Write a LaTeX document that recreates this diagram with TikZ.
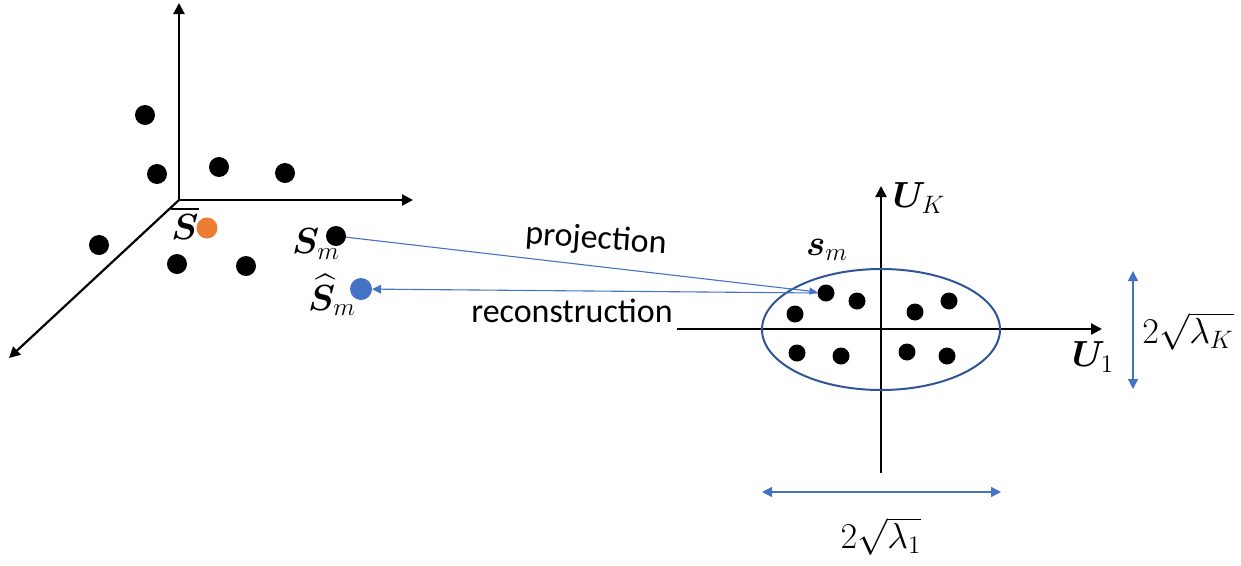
\documentclass[tikz,border=0pt]{standalone}
\usepackage{amsmath}
\usepackage{bm}
\usepackage{fontspec}
\setmainfont{Carlito}
\usetikzlibrary{arrows.meta,shapes.geometric}
\definecolor{lineblue}{RGB}{68,114,196}
\definecolor{ellblue}{RGB}{47,85,151}
\definecolor{dotorange}{RGB}{237,125,49}
\newcommand{\biglbl}[1]{\scalebox{1.75}{\fontsize{20.74}{24}\selectfont$#1$}}
\begin{document}
\begin{tikzpicture}[x=1pt,y=-1pt,
  axis/.style={line width=2.2pt,-{Triangle[length=11pt,width=11pt]}},
  bdot/.style={circle,fill=black,inner sep=0pt,minimum size=20pt},
  sdot/.style={circle,fill=black,inner sep=0pt,minimum size=17pt},
  lbl/.style={inner sep=0pt},
  txt/.style={inner sep=0pt,font=\fontsize{34}{38}\selectfont},
  bluearr/.style={draw=lineblue,line width=1.1pt},
  dim/.style={draw=lineblue,line width=1.3pt,{Triangle[length=10pt,width=10pt]}-{Triangle[length=10pt,width=10pt]}}
]
\useasboundingbox (0,0) rectangle (1241,565);
% 3D axes
\coordinate (O3) at (179,200);
\coordinate (Z3) at (179,3);
\coordinate (X3) at (413,200);
\coordinate (Y3) at (9,358);
\draw[axis] (O3) -- (Z3);
\draw[axis] (O3) -- (X3);
\draw[axis] (O3) -- (Y3);
% dots 3D
\node[bdot] (d1) at (145,115) {};
\node[bdot] (d2) at (157,174) {};
\node[bdot] (d3) at (219,167) {};
\node[bdot] (d4) at (285,173) {};
\node[bdot] (d5) at (99,245) {};
\node[bdot] (d6) at (177,264) {};
\node[bdot] (d7) at (246,266) {};
\node[bdot] (sm3) at (336,236) {};
\node[circle,fill=dotorange,inner sep=0pt,minimum size=21pt] (mean) at (207,228) {};
\node[circle,fill=lineblue,inner sep=0pt,minimum size=22pt] (shat) at (361,289) {};
\node[lbl] (lmean) at (185,223) {\biglbl{\overline{\bm{S}}}};
\node[lbl] (lsm3) at (316,244) {\biglbl{\bm{S}_m}};
\node[lbl] (lshat) at (332,295) {\biglbl{\widehat{\bm{S}}_m}};
% 2D axes
\coordinate (O2) at (881,329);
\coordinate (L2) at (677,329);
\coordinate (R2) at (1102,329);
\coordinate (B2) at (881,473);
\coordinate (T2) at (881,186);
\draw[line width=2.2pt] (L2) -- (O2);
\draw[axis] (O2) -- (R2);
\draw[line width=2.2pt] (B2) -- (O2);
\draw[axis] (O2) -- (T2);
\node[draw=ellblue,line width=2pt,ellipse,minimum width=238pt,minimum height=121pt,inner sep=0pt] (ell) at (881,329.5) {};
% dots 2D
\node[sdot] (p1) at (826,293) {};
\node[sdot] (p2) at (857,301) {};
\node[sdot] (p3) at (795,314) {};
\node[sdot] (p4) at (915,312) {};
\node[sdot] (p5) at (949,301) {};
\node[sdot] (p6) at (797,353) {};
\node[sdot] (p7) at (841,356) {};
\node[sdot] (p8) at (907,352) {};
\node[sdot] (p9) at (947,356) {};
\node[lbl] (luk) at (919,198) {\biglbl{\bm{U}_K}};
\node[lbl] (lsm2) at (827,250) {\biglbl{\bm{s}_m}};
\node[lbl] (lu1) at (1093,357) {\biglbl{\bm{U}_1}};
% projection / reconstruction
\draw[bluearr,-{Triangle[length=8pt,width=7pt]}] (sm3) -- (p1);
\draw[bluearr,-{Triangle[length=9pt,width=9pt]}] (p1.west) -- (shat);
\node[txt,rotate=-4] (tproj) at (596,240) {projection};
\node[txt] (trec) at (572,311) {reconstruction};
% dimension arrows
\coordinate (vt) at (1133,271);
\coordinate (vb) at (1133,389);
\draw[dim] (vt) -- (vb);
\node[lbl] (lk) at (1188,331) {\biglbl{2\sqrt{\lambda_K}}};
\coordinate (hl) at (762,492);
\coordinate (hr) at (1001,492);
\draw[dim] (hl) -- (hr);
\node[lbl] (l1) at (881,536) {\biglbl{2\sqrt{\lambda_1}}};
\end{tikzpicture}
\end{document}
